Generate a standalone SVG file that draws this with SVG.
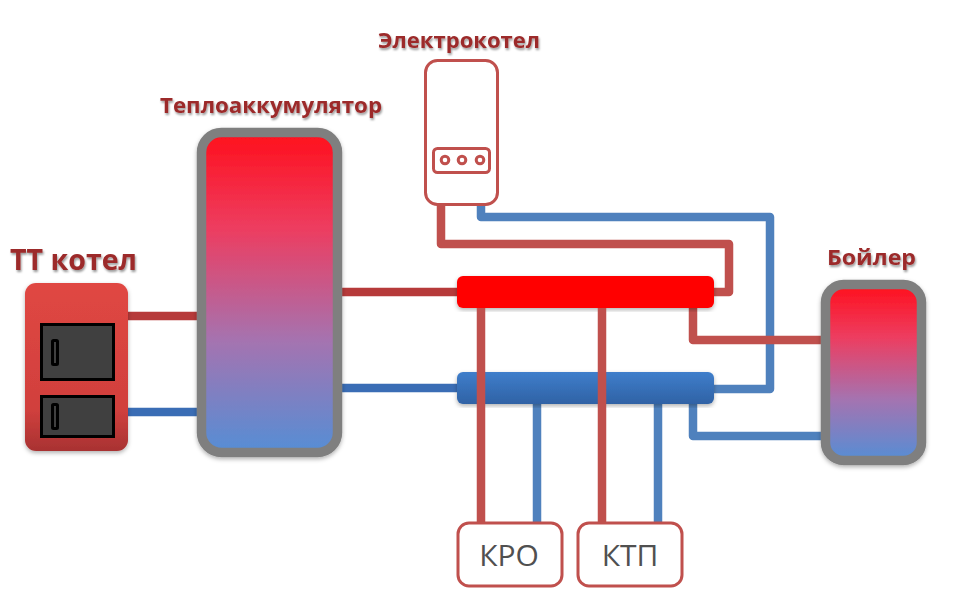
<svg xmlns="http://www.w3.org/2000/svg" width="957" height="606" viewBox="0 0 957 606">
<style>
.pipe{fill:none;stroke-width:8.500;stroke-linejoin:round}
.r{stroke:#c0504d}.b{stroke:#4f81bd}
.rd{stroke:#b63a3a}.bd{stroke:#3a6db5}
.lbl{font-family:"Open Sans","Liberation Sans",sans-serif;font-weight:700;fill:#9c2a2a;filter:url(#ts)}
.box{fill:#fff;stroke:#c0504d;stroke-width:3}
.door{fill:#404040;stroke:#000;stroke-width:3}
.tank{stroke:#7f7f7f;stroke-width:9.500;filter:url(#sh)}
.cap{font-family:"Open Sans","Liberation Sans",sans-serif;font-size:30px;fill:#505050;text-anchor:middle}
</style>
<defs>
<linearGradient id="tg" x1="0" y1="0" x2="0" y2="1"><stop offset="0" stop-color="#ff0f1c"/><stop offset=".3" stop-color="#ed3d60"/><stop offset=".65" stop-color="#a573b0"/><stop offset="1" stop-color="#558ed5"/></linearGradient>
<linearGradient id="bg" x1="0" y1="0" x2="0" y2="1"><stop offset="0" stop-color="#3f7ecb"/><stop offset="1" stop-color="#2f62a5"/></linearGradient>
<linearGradient id="kg" x1="0" y1="0" x2="0" y2="1"><stop offset="0" stop-color="#e04743"/><stop offset=".75" stop-color="#d1403d"/><stop offset="1" stop-color="#a83232"/></linearGradient>
<filter id="ts" x="-10%" y="-30%" width="120%" height="170%"><feDropShadow dx="1" dy="2" stdDeviation="1.300" flood-color="#000" flood-opacity=".4"/></filter>
<filter id="sh" x="-10%" y="-10%" width="120%" height="120%"><feDropShadow dx="0" dy="2" stdDeviation="2" flood-color="#000" flood-opacity=".3"/></filter>
</defs>
<g id="connectors">
<path class="pipe rd" d="M125 316H200"/>
<path class="pipe bd" d="M125 412H200"/>
<path class="pipe rd" d="M340 292H460"/>
<path class="pipe bd" d="M340 388H460"/>
<path class="pipe b" d="M481 205V217H770V389H710"/>
<path class="pipe r" d="M441 205V244H729V292H710"/>
<path class="pipe b" d="M693 400V436H825"/>
<path class="pipe r" d="M693 305V340H825"/>
<path class="pipe b" d="M537 400V524"/>
<path class="pipe b" d="M658 400V524"/>
</g>
<g id="tt-boiler">
<rect x="25" y="283" width="103" height="168" rx="11" fill="url(#kg)" filter="url(#sh)"/>
<rect class="door" x="41.500" y="324.500" width="72" height="55"/>
<rect class="door" x="41.500" y="396.500" width="72" height="40"/>
<rect class="door" x="52.500" y="340.500" width="5" height="24" rx="1"/>
<rect class="door" x="52.500" y="404.500" width="5" height="24" rx="1"/>
<text class="lbl" x="10" y="270" font-size="29" textLength="127" lengthAdjust="spacingAndGlyphs">ТТ котел</text>
</g>
<g id="accumulator">
<rect class="tank" x="201.500" y="132.500" width="136" height="320" rx="20" fill="url(#tg)"/>
<text class="lbl" x="160" y="113" font-size="22" textLength="222" lengthAdjust="spacingAndGlyphs">Теплоаккумулятор</text>
</g>
<g id="electric-boiler">
<rect class="box" x="425.500" y="60.500" width="72" height="144" rx="12"/>
<rect class="box" x="433.500" y="148.500" width="56" height="24" rx="4"/>
<circle class="box" cx="445" cy="160" r="3.800"/>
<circle class="box" cx="462" cy="160" r="3.800"/>
<circle class="box" cx="480" cy="160" r="3.800"/>
<text class="lbl" x="378" y="48" font-size="21" textLength="162" lengthAdjust="spacingAndGlyphs">Электрокотел</text>
</g>
<g id="hot-manifold">
<rect x="457" y="276" width="257" height="32" rx="6" fill="#f00" filter="url(#sh)"/>
</g>
<g id="cold-manifold">
<rect x="457" y="372" width="257" height="32" rx="6" fill="url(#bg)" filter="url(#sh)"/>
</g>
<g id="risers">
<path class="pipe r" d="M481 308V524"/>
<path class="pipe r" d="M602 308V524"/>
</g>
<g id="dhw-tank">
<rect class="tank" x="825.500" y="284.500" width="96" height="176" rx="18" fill="url(#tg)"/>
<text class="lbl" x="827" y="265" font-size="22" textLength="89" lengthAdjust="spacingAndGlyphs">Бойлер</text>
</g>
<g id="kro">
<rect class="box" x="458" y="523" width="104" height="63" rx="11"/>
<text class="cap" x="509" y="566">КРО</text>
</g>
<g id="ktp">
<rect class="box" x="578" y="523" width="104" height="63" rx="11"/>
<text class="cap" x="630" y="566">КТП</text>
</g>
</svg>
